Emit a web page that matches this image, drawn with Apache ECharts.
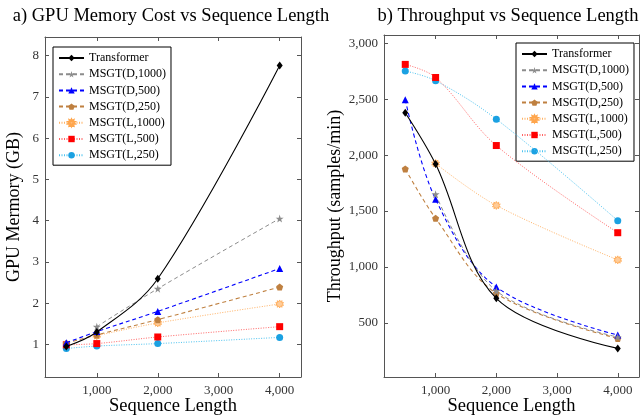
<!DOCTYPE html>
<html>
<head>
<meta charset="utf-8">
<script src="https://cdn.jsdelivr.net/npm/echarts@6/dist/echarts.min.js"></script>
<style>
html,body{margin:0;padding:0;background:#fff;}
#c{width:642px;height:418px;}
</style>
</head>
<body>
<div id="c"></div>
<script>
// ---- data ----
const seqLen = [500, 1000, 2000, 4000];
const seriesNames = ['Transformer', 'MSGT(D,1000)', 'MSGT(D,500)', 'MSGT(D,250)', 'MSGT(L,1000)', 'MSGT(L,500)', 'MSGT(L,250)'];

// a) GPU memory (GB)
const memTransformer = [0.95, 1.30, 2.59, 7.76];
const memD1000 = [null, 1.43, 2.35, 4.05];
const memD500 = [1.04, 1.31, 1.80, 2.84];
const memD250 = [1.03, 1.23, 1.60, 2.39];
const memL1000 = [null, 1.21, 1.52, 1.98];
const memL500 = [0.99, 1.02, 1.18, 1.43];
const memL250 = [0.90, 0.96, 1.02, 1.17];

// b) Throughput (samples/min)
const thrTransformer = [2380, 1920, 719, 271];
const thrD1000 = [null, 1650, 785, 372];
const thrD500 = [2496, 1605, 820, 390];
const thrD250 = [1877, 1435, 763, 360];
const thrL1000 = [null, 1925, 1550, 1063];
const thrL500 = [2812, 2695, 2086, 1306];
const thrL250 = [2753, 2666, 2322, 1414];

// tick labels
const xTicks = [1000, 2000, 3000, 4000];
const memTicks = [1, 2, 3, 4, 5, 6, 7, 8];
const thrTicks = [500, 1000, 1500, 2000, 2500, 3000];

// ---- styles ----
const FONT = 'Liberation Serif';
const AX = '#555';
const STAR = 'path://M50,0 L61,35 L98,35 L68,57 L79,91 L50,70 L21,91 L32,57 L2,35 L39,35 Z';
const PENT = 'path://M50,0 L97,35 L79,90 L21,90 L3,35 Z';
const STAR10 = 'path://M50,0 L59.3,21.5 L79.4,9.5 L74.3,32.4 L97.6,34.5 L80,50 L97.6,65.5 L74.3,67.6 L79.4,90.5 L59.3,78.5 L50,100 L40.7,78.5 L20.6,90.5 L25.7,67.6 L2.4,65.5 L20,50 L2.4,34.5 L25.7,32.4 L20.6,9.5 L40.7,21.5 Z';

const styles = [
  {line: '#000', mark: '#000', type: 'solid', width: 1.1, symbol: 'diamond', size: [6, 8]},
  {line: '#8c8c8c', mark: '#8c8c8c', type: [4, 3], width: 1, symbol: STAR, size: 8},
  {line: '#0000ff', mark: '#0000ff', type: [4, 3], width: 1.1, symbol: 'triangle', size: 7},
  {line: '#bf8040', mark: '#bf8040', type: [4, 3], width: 1.1, symbol: PENT, size: 7},
  {line: '#ffb366', mark: '#ffcc99', type: [1, 1.5], width: 1, symbol: STAR10, size: 8, border: '#ffa64d'},
  {line: '#ff6666', mark: '#ff0000', type: [1, 1.5], width: 1, symbol: 'rect', size: 7},
  {line: '#4dc3f0', mark: '#1ba1e2', type: [1, 1.5], width: 1, symbol: 'circle', size: 7}
];

function pairs(ys) {
  const out = [];
  ys.forEach((y, i) => { if (y !== null) out.push([seqLen[i], y]); });
  return out;
}
function fmt(v) { return v.toLocaleString('en-US'); }

function makeSeries(arrs, idx) {
  return arrs.map((a, k) => {
    const s = styles[k];
    return {
      name: seriesNames[k],
      type: 'line',
      xAxisIndex: idx * 2,
      yAxisIndex: idx * 2,
      data: pairs(a),
      smooth: 0.35,
      symbol: s.symbol,
      symbolSize: s.size,
      showSymbol: true,
      lineStyle: {color: s.line, width: s.width, type: s.type},
      itemStyle: {color: s.mark, borderColor: s.border || s.mark, borderWidth: s.border ? 0.8 : 0},
      emphasis: {disabled: true},
      z: 10 - k
    };
  });
}

function xAxes(grid, name) {
  return [
    {
      type: 'value', gridIndex: grid, min: 150, max: 4350, position: 'bottom',
      name: name, nameLocation: 'middle', nameGap: 20, nameMoveOverlap: false,
      nameTextStyle: {fontFamily: FONT, fontSize: 18.5, color: '#000'},
      axisLine: {show: true, lineStyle: {color: AX, width: 1}},
      axisTick: {show: true, inside: true, length: 4, customValues: xTicks, lineStyle: {color: AX}},
      axisLabel: {customValues: xTicks, formatter: fmt, fontFamily: FONT, fontSize: 13, color: '#333', margin: 7},
      splitLine: {show: false}
    },
    {
      type: 'value', gridIndex: grid, min: 150, max: 4350, position: 'top',
      axisLine: {show: true, lineStyle: {color: AX, width: 1}},
      axisTick: {show: true, inside: true, length: 4, customValues: xTicks, lineStyle: {color: AX}},
      axisLabel: {show: false},
      splitLine: {show: false}
    }
  ];
}
function yAxes(grid, name, min, max, ticks, gap) {
  return [
    {
      type: 'value', gridIndex: grid, min: min, max: max, position: 'left',
      name: name, nameLocation: 'middle', nameGap: gap, nameRotate: 90, nameMoveOverlap: false,
      nameTextStyle: {fontFamily: FONT, fontSize: 18, color: '#000'},
      axisLine: {show: true, lineStyle: {color: AX, width: 1}},
      axisTick: {show: true, inside: true, length: 4, customValues: ticks, lineStyle: {color: AX}},
      axisLabel: {customValues: ticks, formatter: fmt, fontFamily: FONT, fontSize: 13, color: '#333', margin: 6},
      splitLine: {show: false}
    },
    {
      type: 'value', gridIndex: grid, min: min, max: max, position: 'right',
      axisLine: {show: true, lineStyle: {color: AX, width: 1}},
      axisTick: {show: true, inside: true, length: 4, customValues: ticks, lineStyle: {color: AX}},
      axisLabel: {show: false},
      splitLine: {show: false}
    }
  ];
}

function legend(left, top) {
  return {
    data: seriesNames, left: left, top: top, orient: 'vertical',
    backgroundColor: '#fff', borderColor: '#000', borderWidth: 1,
    padding: [4, 5, 3, 5], itemGap: 2.2, itemWidth: 25, itemHeight: 8,
    selectedMode: false,
    textStyle: {fontFamily: FONT, fontSize: 12, color: '#000', lineHeight: 14}
  };
}

const chart = echarts.init(document.getElementById('c'), null, {renderer: 'canvas'});
chart.setOption({
  animation: false,
  backgroundColor: '#fff',
  title: [
    {text: 'a) GPU Memory Cost vs Sequence Length', left: 166, top: 2, textAlign: 'center',
     textStyle: {fontFamily: FONT, fontSize: 18.5, fontWeight: 'normal', color: '#000'}},
    {text: 'b) Throughput vs Sequence Length', left: 503, top: 2, textAlign: 'center',
     textStyle: {fontFamily: FONT, fontSize: 18.5, fontWeight: 'normal', color: '#000'}}
  ],
  grid: [
    {left: 45, top: 37, width: 256, height: 340, show: false, containLabel: false, outerBoundsMode: 'none'},
    {left: 384, top: 35, width: 255, height: 342, show: false, containLabel: false, outerBoundsMode: 'none'}
  ],
  legend: [legend(53, 47), legend(516, 43)],
  xAxis: [...xAxes(0, 'Sequence Length'), ...xAxes(1, 'Sequence Length')],
  yAxis: [...yAxes(0, 'GPU Mermory (GB)', 0.21, 8.45, memTicks, 22), ...yAxes(1, 'Throughput (samples/min)', 15, 3075, thrTicks, 40)],
  series: [
    ...makeSeries([memTransformer, memD1000, memD500, memD250, memL1000, memL500, memL250], 0),
    ...makeSeries([thrTransformer, thrD1000, thrD500, thrD250, thrL1000, thrL500, thrL250], 1)
  ]
});
</script>
</body>
</html>
